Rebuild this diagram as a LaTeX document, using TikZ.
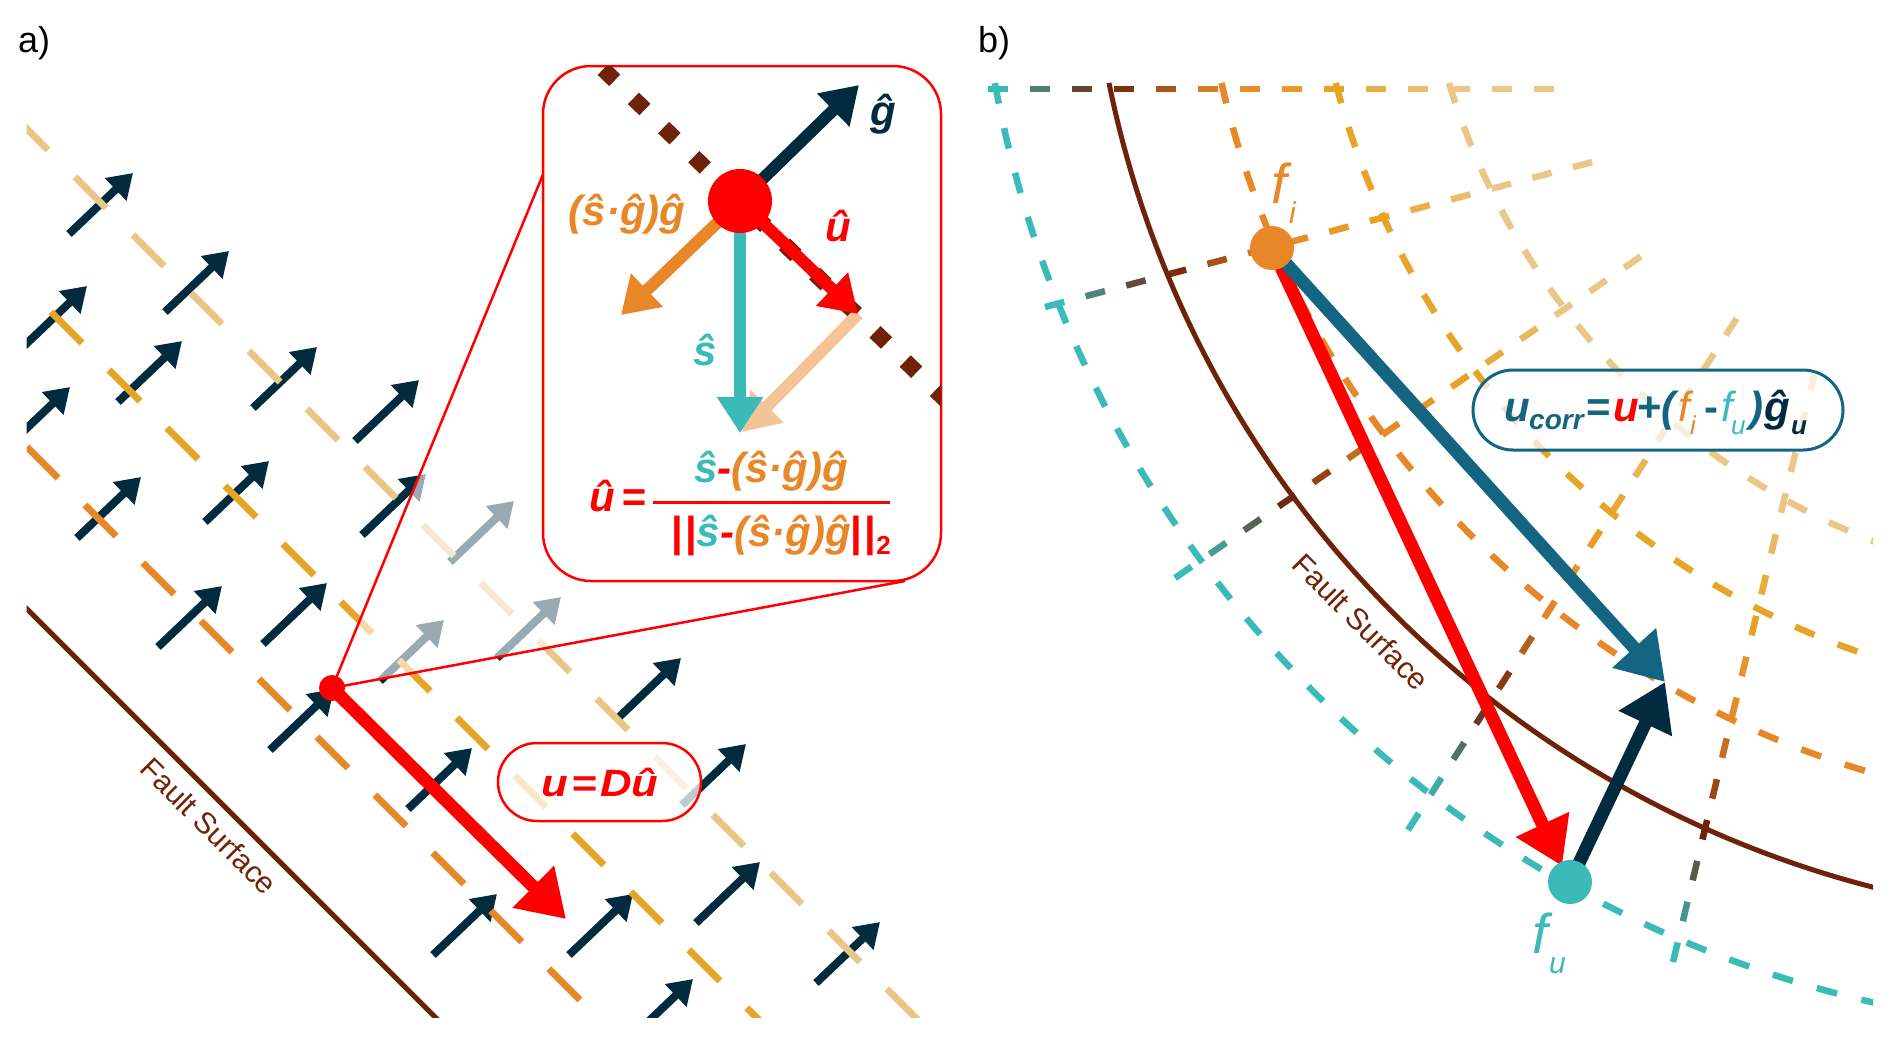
\documentclass[tikz,border=0pt]{standalone}
\usepackage{fontspec}
\setmainfont{Liberation Sans}
\usepackage{graphicx}
\usetikzlibrary{arrows.meta}
\definecolor{cnavy}{RGB}{3,43,64}
\definecolor{cblue}{RGB}{19,101,130}
\definecolor{cteal}{RGB}{58,186,184}
\definecolor{corange}{RGB}{232,135,40}
\definecolor{cgold}{RGB}{232,164,38}
\definecolor{ctan}{RGB}{234,199,137}
\definecolor{cbrown}{RGB}{110,34,8}
\definecolor{cpeach}{RGB}{243,197,150}
\definecolor{cred}{RGB}{255,0,0}
\newcommand\fs[1]{\fontsize{#1}{#1}\selectfont}
\tikzset{
  smallarrow/.style={cnavy, line width=8pt, -{Triangle[length=24pt,width=30pt]}},
  vecarrow/.style={line width=12pt, -{Triangle[length=36pt,width=44pt]}},
  bigarrow/.style={line width=13pt, -{Triangle[length=46pt,width=56pt]}},
  adash/.style={line width=7pt, dash pattern=on 44pt off 38pt},
  griddash/.style={line width=6.5pt},
  arcdash/.style={line width=6.5pt, dash pattern=on 21pt off 25pt},
  lbl/.style={inner sep=0pt, font=\fs{42}\bfseries\itshape},
}
% gradient dashed straight line in panel b
\newcommand\gradline[4]{%
  \pgfmathsetmacro\gL{100*sqrt((((#3)-(#1))/100)^2+(((#4)-(#2))/100)^2)}%
  \pgfmathtruncatemacro\gN{floor(\gL/42)}%
  \foreach \k in {0,...,\gN}{%
    \pgfmathsetmacro\gA{\k*42/\gL}%
    \pgfmathsetmacro\gB{min(1,(\k*42+20)/\gL)}%
    \pgfmathsetmacro\gM{(\gA+\gB)/2}%
    \pgfmathsetmacro\gXa{#1+\gA*((#3)-(#1))}%
    \pgfmathsetmacro\gYa{#2+\gA*((#4)-(#2))}%
    \pgfmathsetmacro\gXb{#1+\gB*((#3)-(#1))}%
    \pgfmathsetmacro\gYb{#2+\gB*((#4)-(#2))}%
    \pgfmathsetmacro\gXm{#1+\gM*((#3)-(#1))}%
    \pgfmathsetmacro\gYm{#2+\gM*((#4)-(#2))}%
    \pgfmathsetmacro\gR{100*sqrt(((\gXm-2133)/100)^2+((\gYm+125)/100)^2)}%
    \pgfmathsetmacro\gS{max(0,min(3.999,(1157-\gR)/110.5))}%
    \pgfmathtruncatemacro\gI{floor(\gS)}%
    \pgfmathtruncatemacro\gP{round(100*(\gS-\gI))}%
    \ifcase\gI\relax \colorlet{gca}{cteal}\colorlet{gcb}{cbrown}%
    \or \colorlet{gca}{cbrown}\colorlet{gcb}{corange}%
    \or \colorlet{gca}{corange}\colorlet{gcb}{cgold}%
    \else \colorlet{gca}{cgold}\colorlet{gcb}{ctan}\fi
    \draw[griddash, gcb!\gP!gca] (\gXa,\gYa) -- (\gXb,\gYb);
  }%
}
\newcommand\sarrow[2]{\draw[smallarrow] ({#1-64},{#2+61}) -- (#1,#2);}
\begin{document}
\begin{tikzpicture}[x=1pt,y=-1pt]
\useasboundingbox (0,0) rectangle (1892,1039);
\fill[white] (0,0) rectangle (1892,1039);

% ================= panel a =================
\node[anchor=base west, inner sep=0pt] (la) at (18,52) {\fs{36}a)};
\begin{scope}
\clip (26.5,0) rectangle (960,1017);
\foreach \tx/\ty in {133/173,229/251,87/286,182/341,317/347,70/387,419/380,141/477,
  269/461,426/474,514/501,222/586,327/583,444/620,561/597,334/689,681/658,472/748,
  746/744,497/894,633/894,760/862,693/979,880/922}{\sarrow{\tx}{\ty}}
\draw[adash, ctan] (17,119) -- (1000,1102);
\draw[adash, cgold] (-7,254) -- (900,1161);
\draw[adash, corange] (-31,389) -- (800,1220);
\draw[cbrown, line width=5pt] (0,582) -- (600,1182);
\end{scope}
\node[rotate=-45, inner sep=0pt, text=cbrown] (fsa) at (209,826) {\fs{30}Fault Surface};

\coordinate (P) at (332,688);
\coordinate (cu) at (544,172);
\coordinate (cl) at (905,581);
\fill[white, fill opacity=0.6] (P) -- (cu) -- (544,581) -- (cl) -- cycle;
\draw[cred, line width=2.5pt] (cu) -- (P) -- (cl);
\coordinate (Ptip) at (566,919);
\draw[bigarrow, cred] (P) -- (Ptip);
\fill[cred] (P) circle[radius=13];

% pill u = D u
\draw[cred, line width=2.5pt, fill=white, fill opacity=0.75, rounded corners=39pt] (498,743) rectangle (701,821);
\node[inner sep=0pt, text=cred] (ud) at (600,782) {\scalebox{1.15}[1]{\fs{38}\bfseries\itshape u\kern3pt=\kern3pt Dû}};

% zoom box
\draw[cred, line width=2.5pt, fill=white, rounded corners=48pt] (543,66) rectangle (941,581);
\begin{scope}
\clip[rounded corners=48pt] (543,66) rectangle (941,581);
\draw[cbrown, line width=16pt, dash pattern=on 16pt off 26pt] (573,40) -- (960,414);
\end{scope}
\coordinate (D) at (740,201);
\coordinate (gt) at (859,85);
\coordinate (ut) at (858,314);
\coordinate (st) at (740,433);
\coordinate (ot) at (621,315);
\draw[vecarrow, cpeach] (ut) -- (742,432);
\draw[vecarrow, cteal] (D) -- (st);
\draw[vecarrow, corange] (D) -- (ot);
\draw[vecarrow, cred] (D) -- (ut);
\draw[vecarrow, cnavy] (D) -- (gt);
\fill[cred] (D) circle[radius=32];
\node[lbl, text=cnavy] (lg) at (883,114) {ĝ};
\node[lbl, text=cred] (lu) at (838,226) {û};
\node[lbl, text=cteal] (ls) at (705,350) {ŝ};
\node[lbl, text=corange] (lsg) at (627,214) {(ŝ·ĝ)ĝ};
\node[lbl, anchor=base west, text=cred] (ueq) at (589,511) {û\kern7pt=};
\draw[cred, line width=3pt] (653,502) -- (890,502);
\node[lbl, anchor=base] (num) at (771,482) {{\color{cteal}ŝ}{\color{cred}-}{\color{corange}(ŝ·ĝ)ĝ}};
\node[lbl, anchor=base] (den) at (781,546) {{\color{cred}\upshape|\kern2pt|}{\color{cteal}ŝ}{\color{cred}-}{\color{corange}(ŝ·ĝ)ĝ}{\color{cred}\upshape|\kern2pt|\raisebox{-8pt}{\fs{26}2}}};

% ================= panel b =================
\node[anchor=base west, inner sep=0pt] (lb) at (978,52) {\fs{36}b)};
\begin{scope}
\clip (960,0) rectangle (1873,1039);
\gradline{988}{89}{1557}{89}
\gradline{1045}{307}{1600}{160}
\gradline{1175}{578}{1650}{250}
\gradline{1408}{830}{1742}{310}
\gradline{1673}{962}{1817}{363}
\draw[arcdash, cteal] (2133,-125) ++(169.64:1157) arc[start angle=169.64, end angle=96, radius=1157];
\draw[arcdash, corange] (2133,-125) ++(167.15:935) arc[start angle=167.15, end angle=96, radius=935];
\draw[arcdash, cgold] (2133,-125) ++(165.38:824) arc[start angle=165.38, end angle=96, radius=824];
\draw[arcdash, ctan] (2133,-125) ++(163.09:715) arc[start angle=163.09, end angle=96, radius=715];
\draw[cbrown, line width=5pt] (2133,-125) ++(168.52:1045) arc[start angle=168.52, end angle=96, radius=1045];
\end{scope}
\node[rotate=-45, inner sep=0pt, text=cbrown] (fsb) at (1361,622) {\fs{30}Fault Surface};

% u_corr pill
\draw[cblue, line width=3pt, fill=white, fill opacity=0.7, rounded corners=40pt] (1473,370) rectangle (1843,450);
\begin{scope}[every node/.style={inner sep=0pt, anchor=base west}]
\node[text=cblue] (uc1) at (1504,421) {\fs{42}\bfseries\itshape u};
\node[text=cblue] (uc2) at (1529,429) {\fs{28}\bfseries\itshape corr};
\node[text=cblue] (uc3) at (1586,421) {\fs{42}\bfseries =};
\node[text=cred] (uc4) at (1613,421) {\fs{42}\bfseries\itshape u};
\node[text=cblue] (uc5) at (1637,421) {\fs{42}\bfseries +};
\node[text=cblue] (uc6) at (1661,421) {\fs{42}\bfseries\itshape (};
\node[text=corange] (uc7) at (1678,421) {\fs{42}\itshape f};
\node[text=corange] (uc8) at (1690,434) {\fs{26}\itshape i};
\node[text=cblue] (uc9) at (1704,421) {\fs{42}\bfseries -};
\node[text=cteal] (uc10) at (1721,421) {\fs{42}\itshape f};
\node[text=cteal] (uc11) at (1731,434) {\fs{26}\itshape u};
\node[text=cblue] (uc12) at (1749,421) {\fs{42}\bfseries\itshape )};
\node[text=cnavy] (uc13) at (1764,421) {\fs{42}\bfseries\itshape ĝ};
\node[text=cnavy] (uc14) at (1791,434) {\fs{26}\bfseries\itshape u};
\end{scope}

\coordinate (fi) at (1272,248);
\coordinate (fu) at (1570,882);
\coordinate (tb) at (1665,682);
\draw[bigarrow, cred] (fi) -- (1562,866);
\draw[bigarrow, cblue] (fi) -- (tb);
\draw[bigarrow, cnavy] (fu) -- (tb);
\fill[corange] (fi) circle[radius=22];
\fill[cteal] (fu) circle[radius=22];
\node[anchor=base west, inner sep=0pt, text=corange] (fi1) at (1271,203) {\fs{56}\itshape f};
\node[anchor=base west, inner sep=0pt, text=corange] (fi2) at (1289,223) {\fs{30}\itshape i};
\node[anchor=base west, inner sep=0pt, text=cteal] (fu1) at (1532,953) {\fs{56}\itshape f};
\node[anchor=base west, inner sep=0pt, text=cteal] (fu2) at (1549,973) {\fs{30}\itshape u};
\end{tikzpicture}
\end{document}
